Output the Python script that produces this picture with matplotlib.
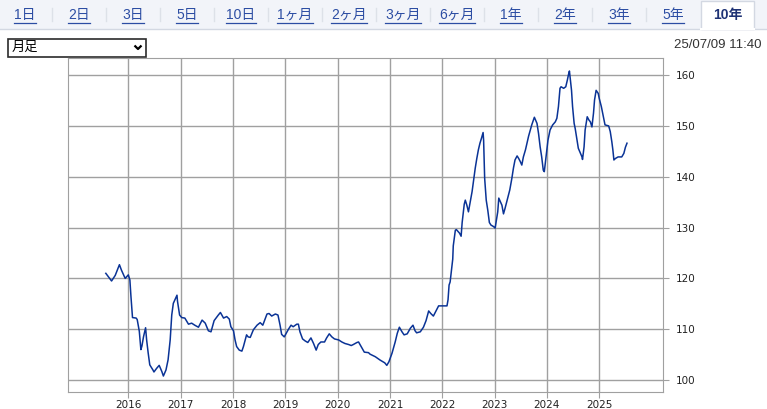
import matplotlib.pyplot as plt
from matplotlib.patches import Rectangle

plt.rcParams['font.family'] = ['Noto Sans CJK JP', 'DejaVu Sans']

tabs = ['1日', '2日', '3日', '5日', '10日', '1ヶ月', '2ヶ月', '3ヶ月', '6ヶ月',
        '1年', '2年', '3年', '5年', '10年']
active_tab = '10年'
period = '月足'
stamp = '25/07/09 11:40'

years = [2015.57, 2015.68, 2015.75, 2015.83, 2015.87, 2015.94, 2016.00, 2016.03, 2016.05, 2016.08,
         2016.15, 2016.17, 2016.21, 2016.24, 2016.26, 2016.29, 2016.33, 2016.35, 2016.38, 2016.41,
         2016.47, 2016.49, 2016.54, 2016.59, 2016.64, 2016.67, 2016.72, 2016.76, 2016.80, 2016.83,
         2016.86, 2016.93, 2016.94, 2016.98, 2017.02, 2017.08, 2017.15, 2017.21, 2017.27, 2017.34,
         2017.41, 2017.47, 2017.53, 2017.58, 2017.64, 2017.72, 2017.76, 2017.82, 2017.88, 2017.93,
         2017.96, 2018.01, 2018.04, 2018.07, 2018.12, 2018.17, 2018.20, 2018.26, 2018.29, 2018.33,
         2018.39, 2018.46, 2018.52, 2018.57, 2018.65, 2018.69, 2018.74, 2018.81, 2018.86, 2018.90,
         2018.93, 2018.98, 2019.06, 2019.11, 2019.15, 2019.22, 2019.25, 2019.28, 2019.33, 2019.38,
         2019.43, 2019.49, 2019.54, 2019.59, 2019.63, 2019.68, 2019.75, 2019.79, 2019.84, 2019.89,
         2019.94, 2020.02, 2020.08, 2020.14, 2020.21, 2020.26, 2020.30, 2020.37, 2020.40, 2020.45,
         2020.51, 2020.59, 2020.62, 2020.72, 2020.81, 2020.90, 2020.94, 2020.98, 2021.04, 2021.10,
         2021.14, 2021.18, 2021.23, 2021.27, 2021.33, 2021.39, 2021.44, 2021.48, 2021.51, 2021.58,
         2021.64, 2021.69, 2021.74, 2021.78, 2021.83, 2021.88, 2021.93, 2022.09, 2022.11, 2022.13,
         2022.15, 2022.20, 2022.21, 2022.25, 2022.27, 2022.33, 2022.36, 2022.38, 2022.42, 2022.44,
         2022.47, 2022.50, 2022.57, 2022.60, 2022.63, 2022.66, 2022.69, 2022.72, 2022.75, 2022.78,
         2022.79, 2022.81, 2022.84, 2022.87, 2022.90, 2022.93, 2022.98, 2023.01, 2023.03, 2023.06,
         2023.08, 2023.14, 2023.17, 2023.20, 2023.24, 2023.29, 2023.33, 2023.36, 2023.39, 2023.43,
         2023.46, 2023.49, 2023.52, 2023.55, 2023.59, 2023.65, 2023.71, 2023.76, 2023.81, 2023.84,
         2023.87, 2023.90, 2023.93, 2023.95, 2023.99, 2024.02, 2024.06, 2024.11, 2024.16, 2024.19,
         2024.22, 2024.25, 2024.27, 2024.32, 2024.36, 2024.39, 2024.41, 2024.43, 2024.47, 2024.49,
         2024.52, 2024.54, 2024.57, 2024.60, 2024.64, 2024.67, 2024.68, 2024.71, 2024.73, 2024.77,
         2024.80, 2024.83, 2024.86, 2024.89, 2024.91, 2024.94, 2024.98, 2025.00, 2025.04, 2025.08,
         2025.11, 2025.18, 2025.21, 2025.24, 2025.26, 2025.28, 2025.31, 2025.36, 2025.43, 2025.47,
         2025.50, 2025.53]

rates = [121.0, 119.5, 120.6, 122.7, 121.6, 120.0, 120.7, 119.7, 116.5, 112.3,
         112.2, 111.9, 109.6, 106.0, 106.7, 108.5, 110.3, 107.9, 105.3, 103.0,
         102.0, 101.6, 102.3, 102.9, 101.7, 100.8, 102.0, 104.0, 107.9, 112.8,
         115.1, 116.7, 115.5, 112.8, 112.3, 112.2, 111.0, 111.2, 110.8, 110.4,
         111.8, 111.2, 109.7, 109.5, 111.7, 112.8, 113.3, 112.2, 112.5, 112.0,
         110.5, 109.7, 107.9, 106.6, 105.9, 105.7, 106.6, 108.9, 108.5, 108.4,
         109.9, 110.8, 111.3, 110.8, 113.0, 113.1, 112.6, 113.0, 112.8, 110.8,
         109.0, 108.5, 110.0, 110.8, 110.5, 111.0, 111.0, 109.5, 108.1, 107.7,
         107.4, 108.3, 107.2, 105.9, 107.0, 107.5, 107.5, 108.3, 109.1, 108.5,
         108.1, 107.9, 107.5, 107.2, 107.0, 106.8, 107.0, 107.4, 107.5, 106.6,
         105.5, 105.4, 105.1, 104.6, 103.95, 103.4, 102.9, 103.6, 105.3, 107.5,
         109.2, 110.4, 109.5, 108.9, 109.1, 110.2, 110.8, 109.7, 109.3, 109.5,
         110.4, 111.7, 113.6, 113.1, 112.6, 113.6, 114.6, 114.6, 115.8, 118.7,
         119.3, 123.8, 126.4, 129.5, 129.6, 128.9, 128.3, 131.0, 134.6, 135.4,
         134.4, 133.1, 137.1, 139.4, 141.7, 143.6, 145.3, 146.6, 147.6, 148.7,
         147.2, 139.7, 135.4, 133.4, 131.0, 130.5, 130.2, 129.9, 131.2, 133.1,
         135.8, 134.4, 132.7, 133.8, 135.4, 137.4, 139.7, 141.7, 143.3, 144.1,
         143.6, 143.0, 142.3, 143.9, 145.3, 148.0, 150.2, 151.7, 150.5, 148.5,
         145.9, 143.9, 141.3, 141.0, 144.6, 147.2, 149.2, 150.2, 150.8, 151.5,
         153.8, 157.4, 157.7, 157.4, 157.7, 159.0, 160.0, 160.8, 157.0, 153.8,
         150.5, 149.5, 147.6, 145.6, 144.6, 143.9, 143.4, 145.9, 149.2, 151.8,
         151.2, 150.8, 149.8, 152.5, 155.1, 157.0, 156.4, 155.4, 153.8, 151.8,
         150.2, 150.0, 148.9, 146.9, 145.3, 143.3, 143.6, 143.9, 143.9, 144.6,
         145.8, 146.6]

x_ticks = [2016, 2017, 2018, 2019, 2020, 2021, 2022, 2023, 2024, 2025]
y_ticks = [100, 110, 120, 130, 140, 150, 160]

W, H = 767, 409
fig = plt.figure(figsize=(W / 100, H / 100), dpi=100)

# page background in pixel coordinates
bg = fig.add_axes([0, 0, 1, 1])
bg.set_xlim(0, W)
bg.set_ylim(H, 0)
bg.axis('off')

tab_font = ['Liberation Sans', 'Noto Sans CJK JP']

bg.add_patch(Rectangle((0, 0), W, 28.5, facecolor='#f2f4f9', edgecolor='none'))
bg.plot([0, W], [28.5, 28.5], color='#d3d8e2', lw=1)
bg.add_patch(Rectangle((700.7, 0.5), 53.6, 28.5, facecolor='white',
                       edgecolor='#d3d8e2', lw=1, zorder=3))
bg.plot([701.2, 753.8], [29, 29], color='white', lw=1.5, zorder=4)

renderer = fig.canvas.get_renderer()
for i, name in enumerate(tabs):
    cx = 25 + 54 * i
    if name == active_tab:
        bg.text(cx + 1, 15, name, ha='center', va='center', fontsize=10,
                fontweight='bold', color='#1e3275', zorder=5, family=tab_font)
        continue
    t = bg.text(cx, 15, name, ha='center', va='center', fontsize=10,
                color='#2c4da3', zorder=5, family=tab_font)
    w = t.get_window_extent(renderer).width
    bg.plot([cx - w / 2, cx + w / 2], [22.5, 22.5], color='#2c4da3', lw=0.9, zorder=5)
    if i < len(tabs) - 2:
        bg.plot([cx + 27, cx + 27], [8, 21], color='#dde1e8', lw=1)

# dropdown
bg.add_patch(Rectangle((7.5, 38.5), 138.5, 18.5, facecolor='white',
                       edgecolor='#2b2b2b', lw=1.2))
bg.text(12, 47.5, period, ha='left', va='center', fontsize=9.5, color='black')
bg.plot([134.5, 138, 141.5], [45.5, 49, 45.5], color='black', lw=1.6,
        solid_capstyle='butt')

bg.text(761, 45, stamp, ha='right', va='center', fontsize=9.5, color='#333333',
        family='Liberation Sans')

# chart
ax = fig.add_axes([68.3 / W, 1 - 392.3 / H, (663.3 - 68.3) / W, (392.3 - 58.3) / H])
ax.plot(years, rates, color='#0a3396', lw=1.1)
ax.set_xlim(2014.853, 2026.224)
ax.set_ylim(97.6, 163.3)
ax.set_xticks(x_ticks)
ax.set_xticklabels([str(v) for v in x_ticks])
ax.set_yticks(y_ticks)
ax.yaxis.tick_right()
ax.grid(True, color='#a0a0a0', lw=1)
ax.set_axisbelow(True)
for s in ax.spines.values():
    s.set_color('#a0a0a0')
ax.tick_params(axis='both', colors='#a0a0a0', labelcolor='#222222',
               labelsize=7.5, length=4)
ax.tick_params(axis='y', pad=5)
ax.tick_params(axis='x', pad=1.5)
for lab in ax.get_xticklabels() + ax.get_yticklabels():
    lab.set_family('DejaVu Sans')

fig.savefig('out.png', dpi=100)
